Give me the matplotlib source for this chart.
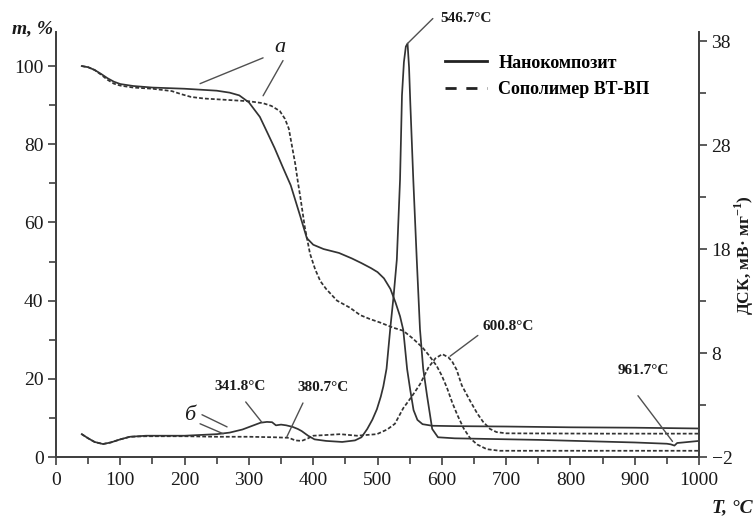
"""
ТГ/ДСК кривые: нанокомпозит и сополимер ВТ-ВП
"""

import matplotlib
matplotlib.use("Agg")
import matplotlib.pyplot as plt
from matplotlib.lines import Line2D
from matplotlib.ticker import MultipleLocator, FixedLocator

plt.rcParams["font.family"] = ["Liberation Serif", "DejaVu Serif"]
plt.rcParams["mathtext.fontset"] = "custom"
plt.rcParams["mathtext.rm"] = "Liberation Serif"
plt.rcParams["mathtext.bf"] = "Liberation Serif:bold"

# ── данные ──────────────────────────────────────
# ТГ, нанокомпозит
TG_NANO_T = [40, 50, 60, 70, 80, 90, 100, 120, 150, 200, 250, 270, 285, 300, 317,
             330, 340, 353, 365, 380, 390, 400, 416, 440, 460, 475, 490, 500, 510,
             520, 528, 535, 540, 546, 551, 556, 562, 570, 585, 620, 700, 800, 900, 1000]
TG_NANO_M = [100, 99.7, 99.0, 98.0, 96.9, 96.0, 95.4, 94.9, 94.5, 94.2, 93.7, 93.2, 92.5,
             90.7, 87.0, 82.5, 79.0, 74.0, 69.5, 61.5, 56.0, 54.3, 53.2, 52.2, 50.8, 49.6,
             48.3, 47.3, 45.7, 43.0, 39.5, 36.0, 32.5, 22.5, 17.0, 12.0, 9.5, 8.4, 8.0,
             7.9, 7.8, 7.6, 7.5, 7.3]

# ТГ, сополимер ВТ-ВП
TG_COP_T = [40, 50, 60, 70, 80, 90, 100, 120, 150, 180, 195, 210, 230, 250, 300, 322,
            335, 348, 356, 362, 367, 372, 376, 380, 387, 395, 403, 411, 420, 437, 457,
            473, 488, 504, 524, 540, 555, 570, 580, 592, 600, 608, 616, 624, 634, 644,
            655, 670, 690, 1000]
TG_COP_M = [100, 99.7, 99.0, 97.8, 96.5, 95.5, 95.0, 94.5, 94.2, 93.6, 92.8, 92.1, 91.7,
            91.5, 91.0, 90.5, 89.8, 88.5, 86.5, 84.0, 79.5, 75.0, 70.5, 66.4, 58.7, 52.0,
            48.0, 45.0, 43.0, 40.0, 38.2, 36.3, 35.3, 34.4, 33.1, 32.3, 30.3, 28.0, 26.0,
            23.3, 20.8, 17.7, 14.0, 10.8, 7.3, 4.8, 3.2, 2.0, 1.6, 1.6]

# ДСК, нанокомпозит
DSC_NANO_T = [40, 50, 60, 73, 85, 100, 115, 140, 200, 250, 270, 290, 305, 318, 328, 336,
              342, 350, 358, 368, 376, 382, 392, 402, 420, 445, 465, 475, 484, 492, 499,
              505, 509, 514, 520, 525, 530, 535, 538, 541, 544, 546.7, 549, 551, 555.6,
              561, 566, 571, 577, 585, 594, 620, 750, 900, 950, 956, 961.7, 966, 975, 1000]
DSC_NANO_V = [0.2, -0.2, -0.55, -0.75, -0.6, -0.3, -0.05, 0.05, 0.05, 0.2, 0.35, 0.65,
              1.0, 1.3, 1.38, 1.35, 1.05, 1.12, 1.05, 0.9, 0.7, 0.5, 0.05, -0.3, -0.45,
              -0.55, -0.4, -0.1, 0.7, 1.6, 2.6, 3.8, 4.8, 6.5, 10.5, 13.5, 17.0, 24.7,
              32.8, 36.0, 37.5, 37.8, 35.5, 32.0, 24.7, 17.0, 10.3, 6.5, 3.9, 0.7, -0.1,
              -0.2, -0.35, -0.6, -0.72, -0.78, -0.9, -0.65, -0.6, -0.45]

# ДСК, сополимер ВТ-ВП
DSC_COP_T = [40, 50, 60, 73, 85, 100, 115, 140, 200, 250, 300, 340, 362, 372, 382, 392,
             400, 415, 442, 468, 499, 515, 527, 540, 553, 566, 579, 590, 600.8, 610, 616,
             623, 631, 644, 655, 664, 675, 685, 700, 850, 1000]
DSC_COP_V = [0.2, -0.2, -0.55, -0.75, -0.6, -0.3, -0.05, 0.0, 0.0, -0.05, -0.05, -0.1,
             -0.15, -0.4, -0.45, -0.2, 0.05, 0.1, 0.2, 0.05, 0.2, 0.65, 1.2, 2.7, 3.8, 5.0,
             6.6, 7.5, 7.9, 7.6, 7.2, 6.4, 4.9, 3.4, 2.2, 1.4, 0.7, 0.4, 0.28, 0.25, 0.25]

LABELS = ["Нанокомпозит", "Сополимер ВТ-ВП"]

INK = "#333333"
TXT = "#1a1a1a"
DASH = (0, (2.2, 1.2))


def val_at(ts, vs, t):
    return vs[ts.index(t)]


# ── рисунок ─────────────────────────────────────
fig = plt.figure(figsize=(7.55, 5.16), dpi=100)
ax = fig.add_axes([0.0742, 0.1143, 0.8517, 0.8236])
ax2 = ax.twinx()

ax.plot(TG_NANO_T, TG_NANO_M, color=INK, lw=1.25)
ax.plot(TG_COP_T, TG_COP_M, color=INK, lw=1.25, ls=DASH)
ax2.plot(DSC_NANO_T, DSC_NANO_V, color=INK, lw=1.25)
ax2.plot(DSC_COP_T, DSC_COP_V, color=INK, lw=1.25, ls=DASH)

ax.set_xlim(0, 1000)
ax.set_ylim(0, 108.7)
ax2.set_ylim(-2, 38.9)

ax.xaxis.set_major_locator(MultipleLocator(100))
ax.xaxis.set_minor_locator(MultipleLocator(50))
ax.yaxis.set_major_locator(MultipleLocator(20))
ax.yaxis.set_minor_locator(MultipleLocator(10))
ax2.yaxis.set_major_locator(FixedLocator([-2, 8, 18, 28, 38]))
ax2.yaxis.set_minor_locator(FixedLocator([3, 13, 23, 33]))

for a in (ax, ax2):
    a.spines["top"].set_visible(False)
    for s in a.spines.values():
        s.set_color("#404040")
        s.set_linewidth(1.3)
    a.tick_params(which="both", direction="out", color="#404040", width=1.2,
                  labelsize=14, labelcolor=TXT)
    a.tick_params(which="major", length=6, pad=3)
    a.tick_params(which="minor", length=5)
ax.tick_params(axis="x", pad=5)

# подписи осей
fig.text(0.016, 0.945, "m, %", fontsize=14, fontweight="bold", style="italic",
         color=TXT, va="center", ha="left")
fig.text(0.997, 0.016, "T, °C", fontsize=14, fontweight="bold", style="italic",
         color=TXT, va="center", ha="right")
fig.text(0.986, 0.505, r"ДСК, мВ· мг$^{\mathbf{-1}}$)", fontsize=12.5, fontweight="bold",
         color=TXT, rotation=90, va="center", ha="center")

# легенда
handles = [Line2D([], [], color="#222222", lw=2.0),
           Line2D([], [], color="#222222", lw=2.0, ls=(0, (4, 3.5)))]
ax.legend(handles, LABELS, loc="upper left", bbox_to_anchor=(0.605, 0.947),
          frameon=False, borderpad=0, borderaxespad=0, handlelength=2.3,
          handletextpad=0.65, labelspacing=0.55,
          prop={"family": "Liberation Serif", "weight": "bold", "size": 13})

# выноски
lead = dict(arrowstyle="-", color="#505050", lw=1.0, shrinkA=0, shrinkB=0)
ann = dict(fontsize=11, fontweight="bold", color=TXT)

# а — кривые ТГ
ax.text(348, 104.8, "а", fontsize=16, style="italic", color=TXT, ha="center", va="center")
ax.annotate("", xy=(224, 95.5), xytext=(322, 102.1), arrowprops=lead, annotation_clip=False)
ax.annotate("", xy=(322, 92.4), xytext=(353, 101.4), arrowprops=lead, annotation_clip=False)

# б — кривые ДСК
ax2.text(208, 2.0, "б", fontsize=16, style="italic", color=TXT, ha="center", va="center")
ax2.annotate("", xy=(266, 0.9), xytext=(227, 2.07), arrowprops=lead)
ax2.annotate("", xy=(260, 0.24), xytext=(224, 1.2), arrowprops=lead)

# пики ДСК
ax2.annotate("", xy=(320, 1.35), xytext=(295, 3.3), arrowprops=lead)
ax2.text(247, 4.8, "341.8°C", ha="left", va="center", **ann)

ax2.annotate("", xy=(359, -0.05), xytext=(384, 3.2), arrowprops=lead)
ax2.text(376, 4.7, "380.7°C", ha="left", va="center", **ann)

t = 546.7
ax2.annotate("", xy=(t, val_at(DSC_NANO_T, DSC_NANO_V, t)), xytext=(586, 40.2),
             arrowprops=lead, annotation_clip=False)
ax2.text(598, 40.2, f"{t:.1f}°C", ha="left", va="center", **ann)

t = 600.8
ax2.annotate("", xy=(t + 12, val_at(DSC_COP_T, DSC_COP_V, t) - 0.2), xytext=(656, 9.7),
             arrowprops=lead)
ax2.text(664, 10.6, f"{t:.1f}°C", ha="left", va="center", **ann)

t = 961.7
ax2.annotate("", xy=(t - 3, val_at(DSC_NANO_T, DSC_NANO_V, t) + 0.4), xytext=(905, 3.9),
             arrowprops=lead)
ax2.text(874, 6.3, f"{t:.1f}°C", ha="left", va="center", **ann)

fig.savefig("out.png", dpi=100)
